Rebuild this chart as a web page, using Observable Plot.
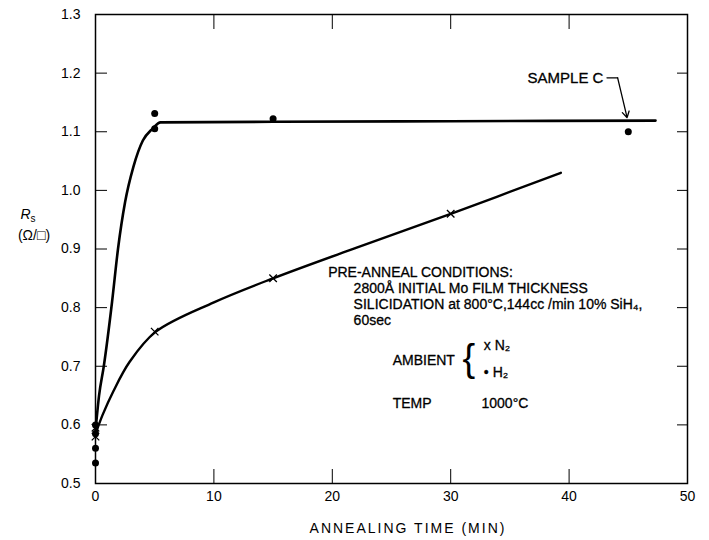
<!DOCTYPE html>
<html><head><meta charset="utf-8">
<script src="https://cdn.jsdelivr.net/npm/d3@7"></script>
<script src="https://cdn.jsdelivr.net/npm/@observablehq/plot@0.6"></script>
<style>
body{margin:0;background:#fff;}
#chart{width:709px;height:540px;}
</style></head><body><div id="chart"></div>
<script>
// ---- data ----
const xTicks = [0, 10, 20, 30, 40, 50];
const yTicks = [0.5, 0.6, 0.7, 0.8, 0.9, 1.0, 1.1, 1.2, 1.3];

// H2 ambient (dots)
const h2Time = [0, 0, 0, 0, 5, 5, 15, 45];
const h2Rs   = [0.535, 0.56, 0.585, 0.60, 1.131, 1.105, 1.122, 1.10];
// N2 ambient (x marks)
const n2Time = [0, 0, 5, 15, 30];
const n2Rs   = [0.58, 0.595, 0.759, 0.85, 0.96];

// hand-drawn curves
const h2CurveTime = [0, 0.3, 0.7, 1.4, 1.9, 2.5, 3.2, 4.0, 4.8, 5.5, 15, 30, 47.3];
const h2CurveRs   = [0.59, 0.65, 0.70, 0.81, 0.90, 0.98, 1.04, 1.085, 1.105, 1.116, 1.117, 1.118, 1.119];
const n2CurveTime = [0.1, 0.6, 1.5, 2.9, 5.1, 10, 15, 22, 30, 39.3];
const n2CurveRs   = [0.59, 0.617, 0.657, 0.708, 0.759, 0.809, 0.85, 0.902, 0.96, 1.03];

// annotations
const noteText = ["PRE-ANNEAL CONDITIONS:", "2800Å INITIAL Mo FILM THICKNESS",
  "SILICIDATION at 800°C,144cc /min 10% SiH₄,", "60sec",
  "AMBIENT", "x N₂", "• H₂", "TEMP", "1000°C"];
const noteTime = [19.65, 21.8, 21.8, 21.8, 25.1, 32.8, 32.8, 25.1, 32.6];
const noteRs   = [0.860, 0.832, 0.806, 0.778, 0.710, 0.735, 0.689, 0.636, 0.636];
const braceTime = [31.0], braceRs = [0.712];
const sampleLabel = ["SAMPLE C"], sampleTime = [42.9], sampleRs = [1.192];
const leaderTime = [43.2, 44.1], leaderRs = [1.192, 1.192];
const arrowFrom = {t: 44.1, v: 1.192}, arrowTo = {t: 44.9, v: 1.124};

const zip = (a, b) => a.map((t, i) => ({t, v: b[i]}));
const h2 = zip(h2Time, h2Rs), n2 = zip(n2Time, n2Rs);
const h2c = zip(h2CurveTime, h2CurveRs), n2c = zip(n2CurveTime, n2CurveRs);
const notes = noteText.map((s, i) => ({s, t: noteTime[i], v: noteRs[i]}));

const font = "'Liberation Sans', Arial, sans-serif";
const plot = Plot.plot({
  width: 709, height: 540,
  marginTop: 14, marginBottom: 57, marginLeft: 95, marginRight: 22,
  style: {fontFamily: font, fontSize: "14px", color: "black", background: "white"},
  x: {domain: [0, 50], label: null},
  y: {domain: [0.5, 1.3], label: null},
  marks: [
    Plot.frame({stroke: "black", strokeWidth: 1.5}),
    Plot.axisX(xTicks, {anchor: "bottom", tickSize: -14, tickPadding: 22, tickFormat: d => String(d), label: null, fontSize: 14}),
    Plot.axisX(xTicks, {anchor: "top", tickSize: -14, tickFormat: () => "", label: null}),
    Plot.axisY(yTicks, {anchor: "left", tickSize: -12, tickPadding: 27, tickFormat: d3.format(".1f"), label: null, fontSize: 14}),
    Plot.axisY(yTicks, {anchor: "right", tickSize: -11, tickFormat: () => "", label: null}),
    Plot.line(h2c, {x: "t", y: "v", curve: "monotone-x", stroke: "black", strokeWidth: 2.6}),
    Plot.line(n2c, {x: "t", y: "v", curve: "catmull-rom", stroke: "black", strokeWidth: 2.4}),
    Plot.dot(h2, {x: "t", y: "v", r: 3.5, fill: "black"}),
    Plot.dot(n2, {x: "t", y: "v", r: 3.5, symbol: "times", stroke: "black", strokeWidth: 1.3}),
    Plot.text(notes, {x: "t", y: "v", text: "s", textAnchor: "start", fontSize: 14, fill: "black", stroke: "black", strokeWidth: 0.3, style: "letter-spacing:0.45px"}),
    Plot.text(braceTime, {x: braceTime, y: braceRs, text: ["{"], textAnchor: "start", fontSize: 38, fill: "black"}),
    Plot.text(sampleLabel, {x: sampleTime, y: sampleRs, text: sampleLabel, textAnchor: "end", fontSize: 15, fill: "black", stroke: "black", strokeWidth: 0.3, style: "letter-spacing:2.5px"}),
    Plot.line(leaderTime, {x: leaderTime, y: leaderRs, stroke: "black", strokeWidth: 1.3}),
    Plot.arrow([0], {x1: [arrowFrom.t], y1: [arrowFrom.v], x2: [arrowTo.t], y2: [arrowTo.v], stroke: "black", strokeWidth: 1.3, headLength: 8})
  ]
});
document.getElementById("chart").append(plot);

const svg = d3.select(plot);
// y-axis label
const yl = svg.append("text").attr("x", 28).attr("y", 219).attr("text-anchor", "middle")
  .attr("font-family", font).attr("font-size", 14).attr("fill", "black");
yl.append("tspan").attr("font-style", "italic").text("R");
yl.append("tspan").attr("dy", 3).attr("font-size", 10).text("s");
svg.append("text").attr("x", 34).attr("y", 240).attr("text-anchor", "middle")
  .attr("font-family", font).attr("font-size", 14).attr("fill", "black").text("(Ω/□)");
// x-axis title
svg.append("text").attr("x", 408).attr("y", 533).attr("text-anchor", "middle")
  .attr("font-family", font).attr("font-size", 14).attr("letter-spacing", "2px").attr("fill", "black")
  .text("ANNEALING TIME (MIN)");
</script></body></html>
